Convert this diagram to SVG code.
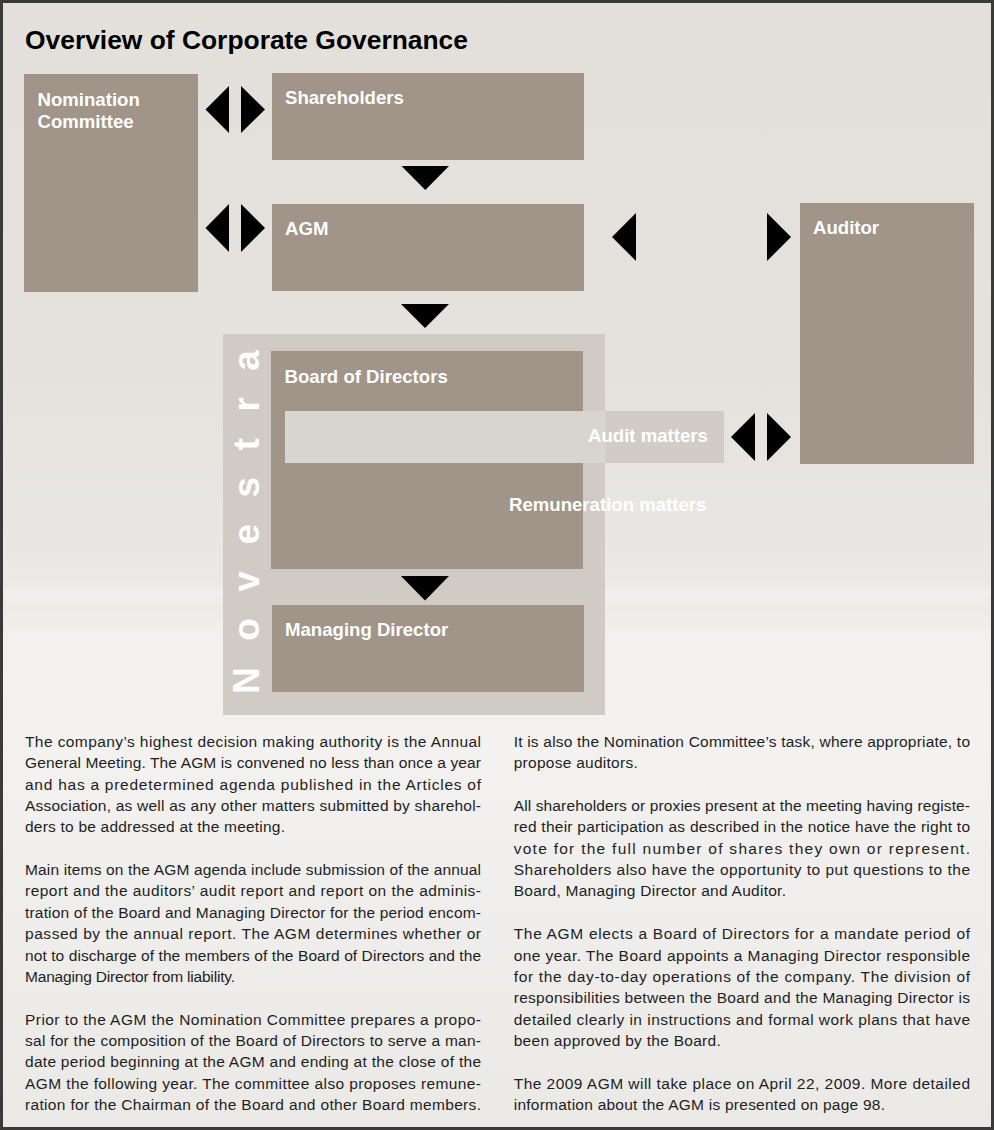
<svg xmlns="http://www.w3.org/2000/svg" width="994" height="1130" viewBox="0 0 994 1130">
<defs>
<linearGradient id="bg" x1="0" y1="0" x2="0" y2="1">
<stop offset="0" stop-color="#e3e0db"/>
<stop offset="0.33" stop-color="#e5e2de"/>
<stop offset="0.45" stop-color="#e8e6e2"/>
<stop offset="0.515" stop-color="#ebe9e6"/>
<stop offset="0.525" stop-color="#f0efed"/>
<stop offset="0.54" stop-color="#ecebe8"/>
<stop offset="0.565" stop-color="#f2f1ef"/>
<stop offset="0.65" stop-color="#f3f2f0"/>
<stop offset="0.8" stop-color="#efeeec"/>
<stop offset="1" stop-color="#ebe9e6"/>
</linearGradient>
<style>
.box{fill:#a19488}
.lbl{font-family:"Liberation Sans",Arial,sans-serif;font-weight:bold;font-size:18.6px;fill:#ffffff}
.body{font-family:"Liberation Sans",Arial,sans-serif;font-size:15.5px;fill:#1e1e1e}
.arr{fill:#000000}
</style>
</defs>
<rect x="0" y="0" width="994" height="1130" fill="url(#bg)"/>
<rect x="1.5" y="1.5" width="991" height="1127" fill="none" stroke="#3a3a3a" stroke-width="3"/>

<text x="25" y="49" font-family="Liberation Sans, Arial, sans-serif" font-weight="bold" font-size="26.4" fill="#000">Overview of Corporate Governance</text>

<g id="novestra">
<rect x="223" y="334" width="382" height="381" fill="#d0cbc5"/>
<text transform="translate(259,694) rotate(-90)" font-family="Liberation Sans, Arial, sans-serif" font-weight="bold" font-size="37" letter-spacing="26.5" fill="#ffffff">Novestra</text>
</g>

<g id="nomination-committee">
<rect class="box" x="24" y="74" width="174" height="218"/>
<text class="lbl" x="37.5" y="105.5">Nomination</text>
<text class="lbl" x="37.5" y="128">Committee</text>
</g>

<g id="shareholders">
<rect class="box" x="272" y="73" width="312" height="87"/>
<text class="lbl" x="285" y="104">Shareholders</text>
</g>

<g id="agm">
<rect class="box" x="272" y="204" width="312" height="87"/>
<text class="lbl" x="285" y="235">AGM</text>
</g>

<g id="auditor">
<rect class="box" x="800" y="203" width="174" height="261"/>
<text class="lbl" x="813" y="234">Auditor</text>
</g>

<g id="board-of-directors">
<rect class="box" x="271" y="351" width="312" height="218"/>
<text class="lbl" x="284.5" y="382.5">Board of Directors</text>
</g>

<g id="audit-matters">
<rect x="285" y="411" width="320" height="52" fill="#d8d4cf"/>
<rect x="605" y="411" width="119" height="52" fill="#d1ccc6"/>
<text class="lbl" x="588" y="442.3">Audit matters</text>
</g>

<g id="remuneration-matters">
<text class="lbl" x="509" y="511">Remuneration matters</text>
</g>

<g id="managing-director">
<rect class="box" x="272" y="605" width="312" height="87"/>
<text class="lbl" x="285" y="635.7">Managing Director</text>
</g>

<g id="connectors">
<polygon class="arr" points="229,86 229,133 205.5,109.5"/>
<polygon class="arr" points="241,86 241,133 265,109.5"/>
<polygon class="arr" points="401.5,166 449,166 425.3,190"/>
<polygon class="arr" points="229,204 229,252 205.5,228"/>
<polygon class="arr" points="241,204 241,252 265,228"/>
<polygon class="arr" points="636,213 636,261 612,237"/>
<polygon class="arr" points="767,213 767,261 791,237"/>
<polygon class="arr" points="401,304 449,304 425,328"/>
<polygon class="arr" points="755,413 755,461 731,437"/>
<polygon class="arr" points="767,413 767,461 791,437"/>
<polygon class="arr" points="401,576 449,576 425,600.5"/>
</g>

<g id="text-left">
<text class="body" x="25" y="747" textLength="456" lengthAdjust="spacing">The company’s highest decision making authority is the Annual</text>
<text class="body" x="25" y="768.35" textLength="456" lengthAdjust="spacing">General Meeting. The AGM is convened no less than once a year</text>
<text class="body" x="25" y="789.7" textLength="456" lengthAdjust="spacing">and has a predetermined agenda published in the Articles of</text>
<text class="body" x="25" y="811.05" textLength="456" lengthAdjust="spacing">Association, as well as any other matters submitted by sharehol-</text>
<text class="body" x="25" y="832.4" textLength="260" lengthAdjust="spacing">ders to be addressed at the meeting.</text>

<text class="body" x="25" y="875.1" textLength="456" lengthAdjust="spacing">Main items on the AGM agenda include submission of the annual</text>
<text class="body" x="25" y="896.45" textLength="456" lengthAdjust="spacing">report and the auditors’ audit report and report on the adminis-</text>
<text class="body" x="25" y="917.8" textLength="456" lengthAdjust="spacing">tration of the Board and Managing Director for the period encom-</text>
<text class="body" x="25" y="939.15" textLength="456" lengthAdjust="spacing">passed by the annual report. The AGM determines whether or</text>
<text class="body" x="25" y="960.5" textLength="456" lengthAdjust="spacing">not to discharge of the members of the Board of Directors and the</text>
<text class="body" x="25" y="981.85" textLength="210" lengthAdjust="spacing">Managing Director from liability.</text>

<text class="body" x="25" y="1024.55" textLength="456" lengthAdjust="spacing">Prior to the AGM the Nomination Committee prepares a propo-</text>
<text class="body" x="25" y="1045.9" textLength="456" lengthAdjust="spacing">sal for the composition of the Board of Directors to serve a man-</text>
<text class="body" x="25" y="1067.25" textLength="456" lengthAdjust="spacing">date period beginning at the AGM and ending at the close of the</text>
<text class="body" x="25" y="1088.6" textLength="456" lengthAdjust="spacing">AGM the following year. The committee also proposes remune-</text>
<text class="body" x="25" y="1109.95" textLength="456" lengthAdjust="spacing">ration for the Chairman of the Board and other Board members.</text>
</g>

<g id="text-right">
<text class="body" x="513.7" y="747" textLength="456.3" lengthAdjust="spacing">It is also the Nomination Committee’s task, where appropriate, to</text>
<text class="body" x="513.7" y="768.35" textLength="124" lengthAdjust="spacing">propose auditors.</text>

<text class="body" x="513.7" y="811.05" textLength="456.3" lengthAdjust="spacing">All shareholders or proxies present at the meeting having registe-</text>
<text class="body" x="513.7" y="832.4" textLength="456.3" lengthAdjust="spacing">red their participation as described in the notice have the right to</text>
<text class="body" x="513.7" y="853.75" textLength="456.3" lengthAdjust="spacing">vote for the full number of shares they own or represent.</text>
<text class="body" x="513.7" y="875.1" textLength="456.3" lengthAdjust="spacing">Shareholders also have the opportunity to put questions to the</text>
<text class="body" x="513.7" y="896.45" textLength="272.3" lengthAdjust="spacing">Board, Managing Director and Auditor.</text>

<text class="body" x="513.7" y="939.15" textLength="456.3" lengthAdjust="spacing">The AGM elects a Board of Directors for a mandate period of</text>
<text class="body" x="513.7" y="960.5" textLength="456.3" lengthAdjust="spacing">one year. The Board appoints a Managing Director responsible</text>
<text class="body" x="513.7" y="981.85" textLength="456.3" lengthAdjust="spacing">for the day-to-day operations of the company. The division of</text>
<text class="body" x="513.7" y="1003.2" textLength="456.3" lengthAdjust="spacing">responsibilities between the Board and the Managing Director is</text>
<text class="body" x="513.7" y="1024.55" textLength="456.3" lengthAdjust="spacing">detailed clearly in instructions and formal work plans that have</text>
<text class="body" x="513.7" y="1045.9" textLength="207" lengthAdjust="spacing">been approved by the Board.</text>

<text class="body" x="513.7" y="1088.6" textLength="456.3" lengthAdjust="spacing">The 2009 AGM will take place on April 22, 2009. More detailed</text>
<text class="body" x="513.7" y="1109.95" textLength="371.3" lengthAdjust="spacing">information about the AGM is presented on page 98.</text>
</g>
</svg>
